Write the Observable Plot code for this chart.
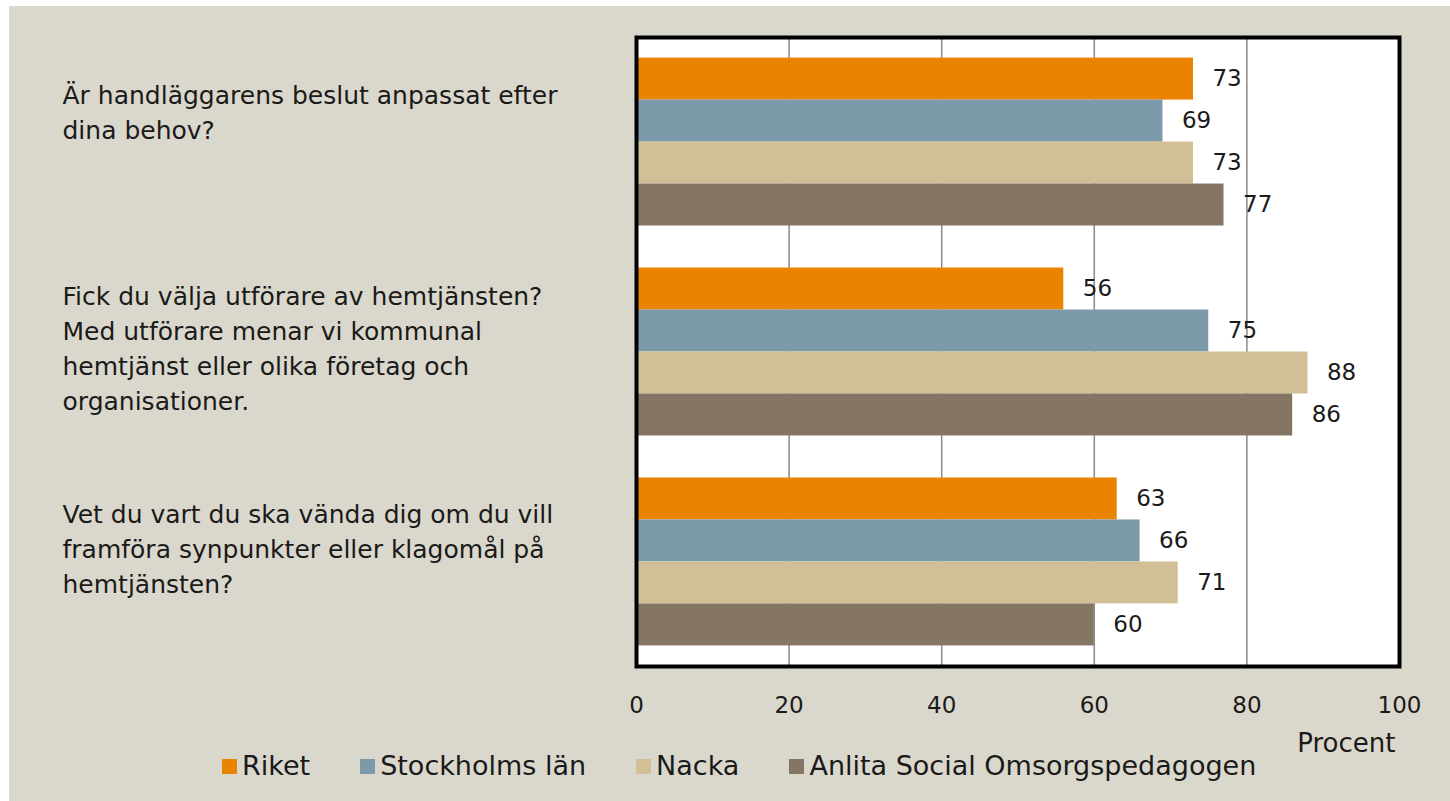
<!DOCTYPE html>
<html><head><meta charset="utf-8">
<script src="https://cdn.jsdelivr.net/npm/d3@7"></script>
<script src="https://cdn.jsdelivr.net/npm/@observablehq/plot@0.6"></script>
<style>
body{margin:0;background:#fff;}
#wrap{position:absolute;left:9px;top:6px;width:1441px;height:795px;background:#DAD8CC;font-family:"DejaVu Sans",sans-serif;overflow:hidden;}
#chart{position:absolute;left:0;top:0;}
#legend{position:absolute;left:213px;top:744px;display:flex;font-size:27px;color:#1a1a1a;line-height:32px;white-space:nowrap;}
#legend .item{display:flex;align-items:center;margin-right:50px;}
#legend .sw{width:15px;height:15px;margin-right:5px;}
</style></head>
<body><div id="wrap"><div id="chart"></div><div id="legend"></div></div>
<script>
const categories = [
  "Är handläggarens beslut anpassat efter\ndina behov?",
  "Fick du välja utförare av hemtjänsten?\nMed utförare menar vi kommunal\nhemtjänst eller olika företag och\norganisationer.",
  "Vet du vart du ska vända dig om du vill\nframföra synpunkter eller klagomål på\nhemtjänsten?"
];
const series = ["Riket", "Stockholms län", "Nacka", "Anlita Social Omsorgspedagogen"];
const riket = [73, 56, 63];
const stockholm = [69, 75, 66];
const nacka = [73, 88, 71];
const anlita = [77, 86, 60];
const colors = ["#E98300", "#7D9AAA", "#D3BF96", "#857565"];
const xTicks = [0, 20, 40, 60, 80, 100];
const gridTicks = [20, 40, 60, 80];
const axisLabel = "Procent";

const valuesBySeries = [riket, stockholm, nacka, anlita];
const rows = [];
const domain = [];
categories.forEach((c, ci) => {
  series.forEach((s, si) => {
    const key = ci + "|" + s;
    domain.push(key);
    rows.push({key, series: s, value: valuesBySeries[si][ci]});
  });
  if (ci < categories.length - 1) domain.push("gap" + ci);
});
const labelShift = [31, 57, 48];
const catMarks = categories.map((c, ci) =>
  Plot.text([{label: c, key: ci + "|" + series[0]}], {
    y: "key", text: "label", frameAnchor: "left", textAnchor: "start",
    dx: 53 - 627, dy: labelShift[ci], lineAnchor: "middle", lineHeight: 1.4,
    fontSize: 25, fill: "#1a1a1a"
  })
);

const font = "DejaVu Sans";
const chart = Plot.plot({
  width: 1441, height: 780,
  marginLeft: 627, marginRight: 51, marginTop: 31, marginBottom: 120,
  style: {background: "transparent", fontFamily: font, fontSize: "23px", color: "#1a1a1a"},
  x: {domain: [0, 100], ticks: xTicks, tickSize: 0, tickPadding: 30, label: null},
  y: {domain, padding: 0, paddingOuter: 0.49, round: false, axis: null},
  color: {domain: series, range: colors},
  marks: [
    Plot.frame({fill: "white", stroke: null}),
    Plot.ruleX(gridTicks, {stroke: "#8a8a8a", strokeWidth: 1.5}),
    Plot.barX(rows, {x: "value", y: "key", fill: "series", inset: 0}),
    Plot.text(rows, {x: "value", y: "key", text: d => String(d.value), textAnchor: "start", dx: 19, fontSize: 23, fill: "#1a1a1a"}),
    ...catMarks,
    Plot.text([axisLabel], {text: d => d, frameAnchor: "bottom-right", textAnchor: "end", lineAnchor: "middle", dx: -4, dy: 77, fontSize: 26, fill: "#1a1a1a"}),
    Plot.frame({stroke: "black", strokeWidth: 4})
  ]
});
document.getElementById("chart").appendChild(chart);

const legend = document.getElementById("legend");
series.forEach((s, i) => {
  const it = document.createElement("div"); it.className = "item";
  const sw = document.createElement("span"); sw.className = "sw"; sw.style.background = colors[i];
  const tx = document.createElement("span"); tx.textContent = s;
  it.appendChild(sw); it.appendChild(tx); legend.appendChild(it);
});
</script></body></html>
